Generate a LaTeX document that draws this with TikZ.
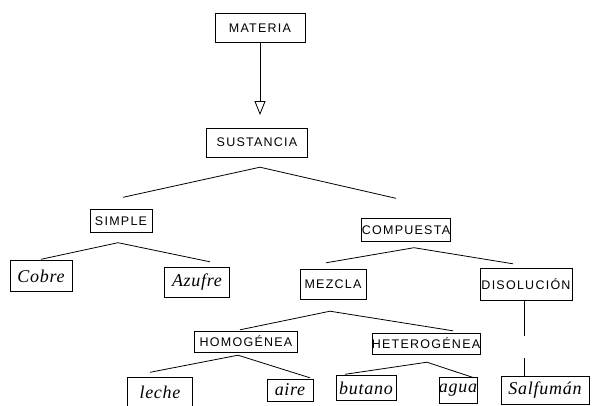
\documentclass[tikz,border=0pt]{standalone}
\usepackage{fontspec}
\usetikzlibrary{arrows.meta}
\newfontfamily\mayus{Liberation Sans}[LetterSpace=10.0]
\newfontfamily\manus{Liberation Serif}[LetterSpace=4.0]
\begin{document}
\begin{tikzpicture}[x=1pt, y=-1pt, semithick, caja/.style = {draw, thin, inner sep=0pt, font=\mayus\fontsize{12.5}{14}\selectfont}, mano/.style = {caja, font=\manus\itshape\fontsize{18}{20}\selectfont}, rama/.style = {line width=0.8pt}] 
\useasboundingbox (0,0) rectangle (592,405);
\node[caja, minimum width=90pt, minimum height=29pt] (mat) at (260,28) {MATERIA};
\node[caja, minimum width=101pt, minimum height=29pt] (sus) at (257,142.5) {SUSTANCIA};
\node[caja, minimum width=62pt, minimum height=23pt] (sim) at (121,221) {SIMPLE};
\node[caja, minimum width=89pt, minimum height=23pt] (com) at (406,230) {COMPUESTA};
\node[mano, minimum width=62pt, minimum height=31pt] (cob) at (41,276) {Cobre};
\node[mano, minimum width=65pt, minimum height=30pt] (azu) at (197,282) {Azufre};
\node[caja, minimum width=66pt, minimum height=30pt] (mez) at (333,284) {MEZCLA};
\node[caja, minimum width=92pt, minimum height=32pt] (dis) at (526,284) {DISOLUCIÓN};
\node[caja, minimum width=103pt, minimum height=21pt] (hom) at (246,341.5) {HOMOGÉNEA};
\node[caja, minimum width=102pt, minimum height=21pt] (het) at (426,343.5) {HETEROGÉNEA};
\node[mano, minimum width=65pt, minimum height=29pt] (lec) at (160,392) {leche};
\node[mano, minimum width=46pt, minimum height=22pt] (air) at (290,390) {aire};
\node[mano, minimum width=60pt, minimum height=25pt] (but) at (366,388) {butano};
\node[mano, minimum width=37pt, minimum height=26pt] (agu) at (458,390) {agua};
\node[mano, minimum width=88pt, minimum height=28pt] (sal) at (545,390) {Salfumán};
\coordinate (punta) at (260,115);
% flecha de materia a sustancia
\draw[rama, -{Triangle[open, length=14pt, width=11pt]}] (mat.south) -- (punta);
% ramas
\draw[rama] ([xshift=2pt,yshift=12pt]sim.north) -- ([xshift=3pt,yshift=-10pt]sus.south) -- ([xshift=-10pt,yshift=20pt]com.north);
\draw[rama] ([xshift=0pt,yshift=1pt]cob.north) -- ([xshift=-3pt,yshift=-10pt]sim.south) -- ([xshift=13pt,yshift=5pt]azu.north);
\draw[rama] ([xshift=-7pt,yshift=6pt]mez.north) -- ([xshift=8pt,yshift=-6pt]com.south) -- ([xshift=-13pt,yshift=4pt]dis.north);
\draw[rama] ([xshift=-6pt,yshift=1pt]hom.north) -- ([xshift=-3pt,yshift=-12pt]mez.south) -- ([xshift=27pt,yshift=2pt]het.north);
\draw[rama] ([xshift=-10pt,yshift=5pt]lec.north) -- ([xshift=-8pt,yshift=-3pt]hom.south) -- ([xshift=20pt,yshift=1pt]air.north);
\draw[rama] ([xshift=-21pt,yshift=1pt]but.north) -- ([xshift=1pt,yshift=-8pt]het.south) -- ([xshift=16pt,yshift=-1pt]agu.north);
\draw[rama, dash pattern=on 35pt off 22pt on 30pt, shorten <=1pt] ([xshift=-2pt]dis.south) -- ([xshift=-21pt]sal.north);
\end{tikzpicture}
\end{document}
